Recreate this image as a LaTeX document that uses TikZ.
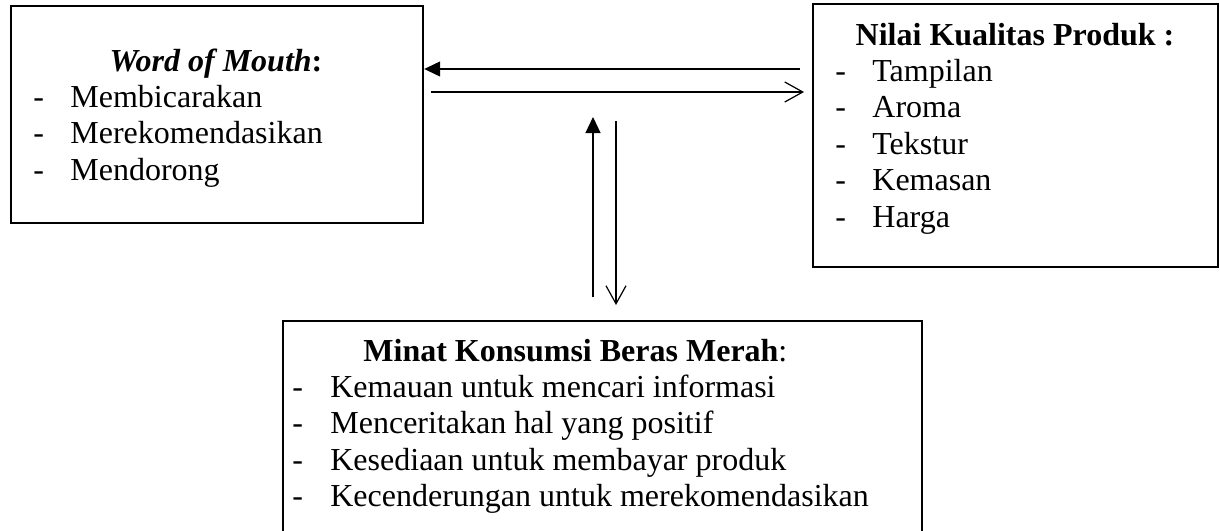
\documentclass[tikz,border=0pt]{standalone}
\usepackage{fontspec}
\setmainfont{Liberation Serif}
\usetikzlibrary{arrows.meta}

\begin{document}
\begin{tikzpicture}[x=0.5pt,y=-0.5pt,
    box/.style={draw,line width=1.1pt,rectangle,anchor=north west,inner sep=0pt},
    title/.style={font=\fontsize{16}{18}\selectfont\bfseries,inner sep=0pt,anchor=base},
    item/.style={font=\fontsize{16}{18}\selectfont,inner sep=0pt,anchor=base west},
    solidhead/.style={line width=0.6pt,-{Triangle[length=8pt,width=7.5pt]}},
    openhead/.style={line width=0.6pt,-{Straight Barb[length=9pt,width=10pt]}}]
        \useasboundingbox (0,0) rectangle (1220,530);
        \pgfmathsetmacro\gap{36.4}
        \node[box,minimum width=206pt,minimum height=108.5pt] (wom) at (10,5) {};
        \node[box,minimum width=202.5pt,minimum height=131.5pt] (nkp) at (812,3) {};
        \node[box,minimum width=319.5pt,minimum height=110pt] (mkb) at (282,320) {};
        \node[title] (womtitle) at (216,71) {\textit{Word of Mouth}:};
        \node[title] (nkptitle) at (1015,45) {Nilai Kualitas Produk :};
        \node[title,anchor=base west] (mkbtitle) at (363,361) {Minat Konsumsi Beras Merah\textmd{:}};
        \foreach \t [count=\i] in {Membicarakan,Merekomendasikan,Mendorong}
            \node[item] (wom\i) at (33,71+\gap*\i) {\makebox[18.5pt][l]{-}\t};
        \foreach \t [count=\i] in {Tampilan,Aroma,Tekstur,Kemasan,Harga}
            \node[item] (nkp\i) at (835,45+\gap*\i) {\makebox[18.5pt][l]{-}\t};
        \foreach \t [count=\i] in {Kemauan untuk mencari informasi,Menceritakan hal yang positif,Kesediaan untuk membayar produk,Kecenderungan untuk merekomendasikan}
            \node[item] (mkb\i) at (292,361+\gap*\i) {\makebox[19pt][l]{-}\t};
        \coordinate (uptop) at (593,117);
        \coordinate (downtop) at (616,121);
        \draw[solidhead] ([xshift=-6pt,yshift=-33pt]nkp.north west) -- ([yshift=-32pt]wom.north east);
        \draw[openhead] ([xshift=3.5pt,yshift=-43.5pt]wom.north east) -- ([xshift=-4pt,yshift=-44.5pt]nkp.north west);
        \draw[solidhead] ([xshift=155.5pt,yshift=11.5pt]mkb.north west) -- (uptop);
        \draw[openhead] (downtop) -- ([xshift=167pt,yshift=7.5pt]mkb.north west);
\end{tikzpicture}
\end{document}
